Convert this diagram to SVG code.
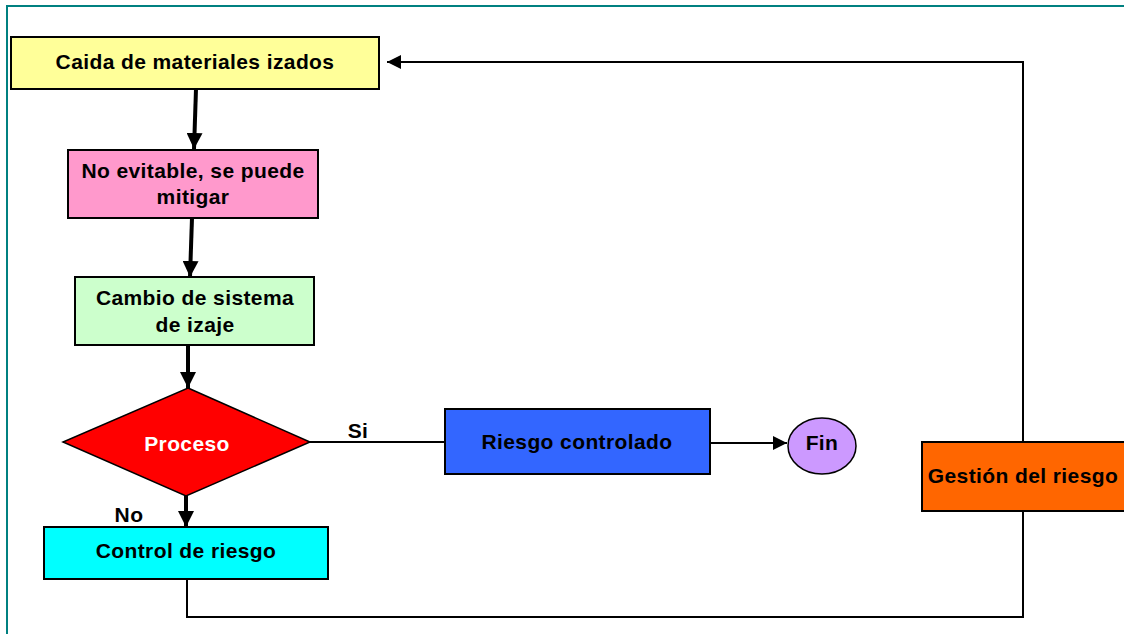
<svg xmlns="http://www.w3.org/2000/svg" width="1124" height="634" viewBox="0 0 1124 634">
  <style>
    .box { stroke: #000; stroke-width: 2; }
    .lbl { font-family: "Liberation Sans", Arial, sans-serif; font-weight: bold; font-size: 21px; letter-spacing: 0.4px; fill: #000; text-anchor: middle; }
    .thick { stroke: #000; stroke-width: 4; fill: none; }
    .thin { stroke: #000; stroke-width: 2; fill: none; }
  </style>
  <defs>
    <marker id="head" viewBox="0 0 10 10" refX="10" refY="5" markerWidth="4" markerHeight="4" orient="auto" markerUnits="strokeWidth">
      <path d="M0,0 L10,5 L0,10 Z" fill="#000"/>
    </marker>
    <marker id="headThin" viewBox="0 0 10 10" refX="10" refY="5" markerWidth="7" markerHeight="7" orient="auto" markerUnits="strokeWidth">
      <path d="M0,0 L10,5 L0,10 Z" fill="#000"/>
    </marker>
  </defs>

  <rect width="1124" height="634" fill="#fff"/>
  <!-- outer frame -->
  <rect x="7" y="6" width="1140" height="650" fill="none" stroke="#008080" stroke-width="2"/>

  <g id="connectors">
    <path class="thick" d="M196,89 L194,149" marker-end="url(#head)"/>
    <path class="thick" d="M192,218 L190,277" marker-end="url(#head)"/>
    <path class="thick" d="M188,345 L188,388" marker-end="url(#head)"/>
    <path class="thick" d="M186,496 L186,527" marker-end="url(#head)"/>
    <path class="thin" d="M310,442 L445,442"/>
    <path class="thin" d="M710,443 L787,443" marker-end="url(#headThin)"/>
    <path class="thin" d="M187,579 L187,617 L1023,617 L1023,511"/>
    <path class="thin" d="M1023,442 L1023,62 L387,62" marker-end="url(#headThin)"/>
    <text class="lbl" x="358" y="438">Si</text>
    <text class="lbl" x="129" y="522">No</text>
  </g>

  <g id="caida">
    <rect class="box" x="11" y="37" width="368" height="52" fill="#FFFF99"/>
    <text class="lbl" x="195" y="69">Caida de materiales izados</text>
  </g>

  <g id="no-evitable">
    <rect class="box" x="68" y="150" width="250" height="68" fill="#FF99CC"/>
    <text class="lbl" x="193" y="178">No evitable, se puede</text>
    <text class="lbl" x="193" y="204">mitigar</text>
  </g>

  <g id="cambio">
    <rect class="box" x="75" y="277" width="239" height="68" fill="#CCFFCC"/>
    <text class="lbl" x="195" y="305">Cambio de sistema</text>
    <text class="lbl" x="195" y="332">de izaje</text>
  </g>

  <g id="proceso">
    <polygon points="188,388 310,442 186,496 63,442" fill="#FF0000" stroke="#000" stroke-width="1.5"/>
    <text class="lbl" x="187" y="451" style="fill:#fff">Proceso</text>
  </g>

  <g id="riesgo-controlado">
    <rect class="box" x="445" y="409" width="265" height="65" fill="#3366FF"/>
    <text class="lbl" x="577" y="449">Riesgo controlado</text>
  </g>

  <g id="fin">
    <ellipse cx="822" cy="446" rx="34" ry="28" fill="#CC99FF" stroke="#000" stroke-width="1.5"/>
    <text class="lbl" x="822" y="450">Fin</text>
  </g>

  <g id="control">
    <rect class="box" x="44" y="527" width="284" height="52" fill="#00FFFF"/>
    <text class="lbl" x="186" y="558">Control de riesgo</text>
  </g>

  <g id="gestion">
    <rect class="box" x="922" y="442" width="210" height="69" fill="#FF6600"/>
    <text class="lbl" x="1023" y="483">Gestión del riesgo</text>
  </g>
</svg>
